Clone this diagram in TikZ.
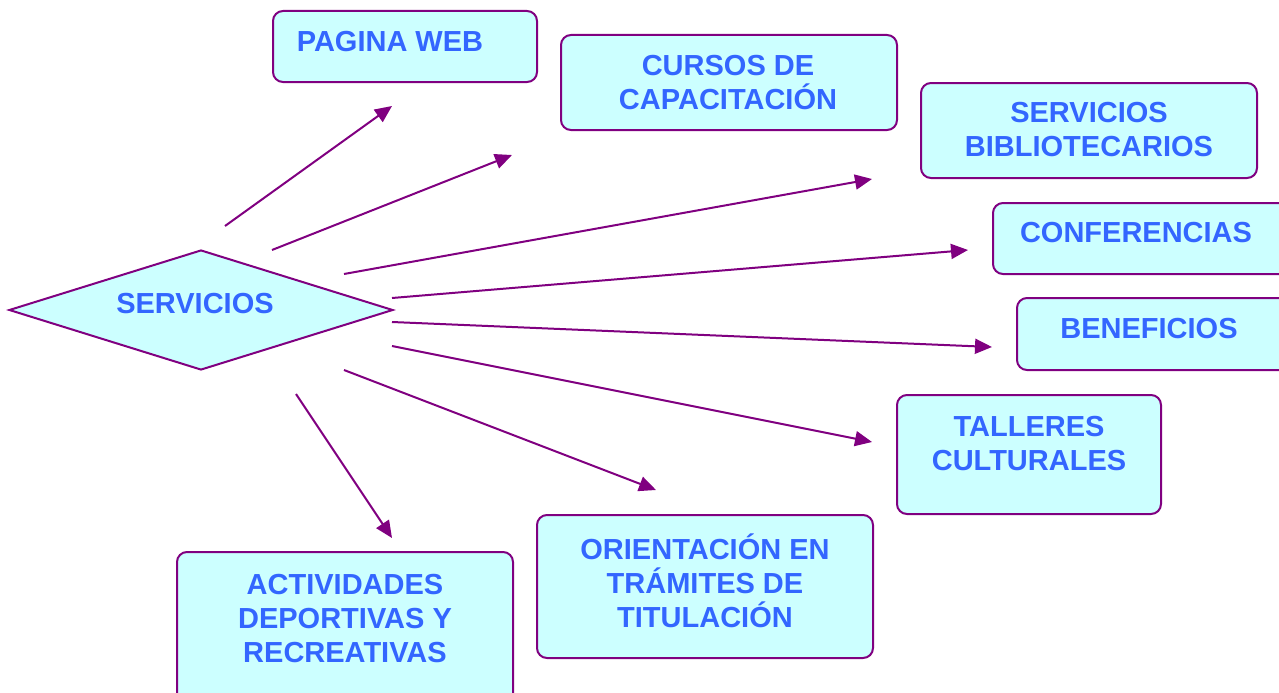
\documentclass[tikz,border=0pt]{standalone}
\usepackage{fontspec}
\setmainfont{Liberation Sans}
\usetikzlibrary{shapes.geometric,arrows.meta}
\definecolor{fondo}{HTML}{CCFFFF}
\definecolor{borde}{HTML}{800080}
\definecolor{letra}{HTML}{3366FF}
\tikzset{box/.style={draw=borde,fill=fondo,line width=2pt,rounded corners=10pt,inner sep=0pt},
         txt/.style={text=letra,font=\fontsize{29}{34}\selectfont\bfseries,align=center,inner sep=0pt},
         line/.style={draw=borde,line width=2pt,-{Triangle[length=17pt,width=15pt]}}
}

\begin{document}
\begin{tikzpicture}[x=1pt,y=-1pt]
  \clip (0,0) rectangle (1279,693);
  \node[diamond, draw=borde, fill=fondo, line width=2pt, inner sep=0pt, shape aspect=3.2, minimum width=384, minimum height=120] (serv) at (201,310) {};
  \node[txt] (serv-t) at (195,304) {SERVICIOS};

  \node[box, minimum width=264, minimum height=71] (web) at (405,46.5) {};
  \node[box, minimum width=336, minimum height=95] (cursos) at (729,82.5) {};
  \node[box, minimum width=336, minimum height=95] (biblio) at (1089,130.5) {};
  \node[box, minimum width=336, minimum height=71] (conf) at (1161,238.5) {};
  \node[box, minimum width=336, minimum height=72] (benef) at (1185,334) {};
  \node[box, minimum width=264, minimum height=119] (talleres) at (1029,454.5) {};
  \node[box, minimum width=336, minimum height=143] (orient) at (705,586.5) {};
  \node[box, minimum width=336, minimum height=168] (activ) at (345,636) {};

  \node[txt] (web-t) at (390,42) {PAGINA WEB};
  \node[txt] (cursos-t) at (728,83) {CURSOS DE\\CAPACITACIÓN};
  \node[txt] (biblio-t) at (1089,130) {SERVICIOS\\BIBLIOTECARIOS};
  \node[txt] (conf-t) at (1136,233) {CONFERENCIAS};
  \node[txt] (benef-t) at (1149,329) {BENEFICIOS};
  \node[txt] (talleres-t) at (1029,444) {TALLERES\\CULTURALES};
  \node[txt] (orient-t) at (705,581) {ORIENTACIÓN EN\\TRÁMITES DE\\TITULACIÓN};
  \node[txt] (activ-t) at (345,619) {ACTIVIDADES\\DEPORTIVAS Y\\RECREATIVAS};

  % arrow ends
  \coordinate (s1) at (225,226);  \coordinate (e1) at (392,106);
  \coordinate (s2) at (272,250);  \coordinate (e2) at (512,155);
  \coordinate (s3) at (344,274);  \coordinate (e3) at (872,179);
  \coordinate (s4) at (392,298);  \coordinate (e4) at (968,250);
  \coordinate (s5) at (392,322);  \coordinate (e5) at (992,347);
  \coordinate (s6) at (392,346);  \coordinate (e6) at (872,442);
  \coordinate (s7) at (344,370);  \coordinate (e7) at (656,490);
  \coordinate (s8) at (296,394);  \coordinate (e8) at (392,538);

  \foreach \i in {1,...,8}
    \draw[line] (s\i) -- (e\i);
\end{tikzpicture}
\end{document}
